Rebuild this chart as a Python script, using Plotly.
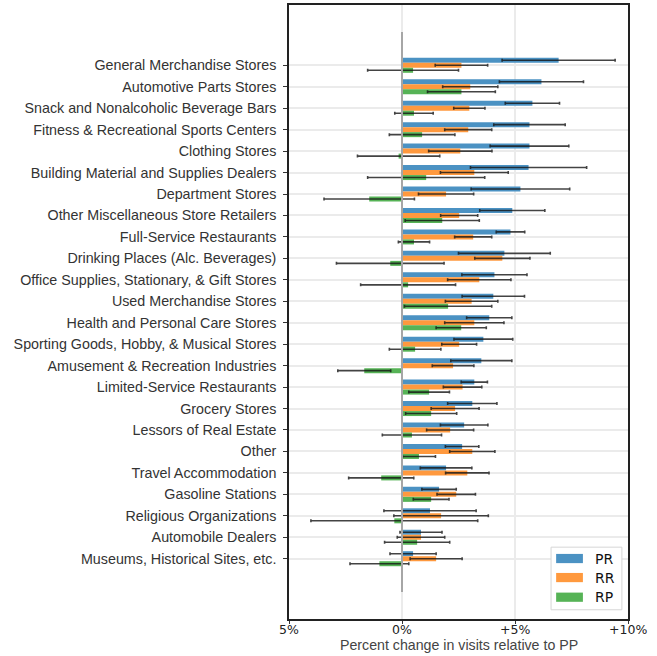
import plotly.graph_objects as go

categories = [
    "General Merchandise Stores", "Automotive Parts Stores",
    "Snack and Nonalcoholic Beverage Bars", "Fitness & Recreational Sports Centers",
    "Clothing Stores", "Building Material and Supplies Dealers", "Department Stores",
    "Other Miscellaneous Store Retailers", "Full-Service Restaurants",
    "Drinking Places (Alc. Beverages)", "Office Supplies, Stationary, & Gift Stores",
    "Used Merchandise Stores", "Health and Personal Care Stores",
    "Sporting Goods, Hobby, & Musical Stores", "Amusement & Recreation Industries",
    "Limited-Service Restaurants", "Grocery Stores", "Lessors of Real Estate", "Other",
    "Travel Accommodation", "Gasoline Stations", "Religious Organizations",
    "Automobile Dealers", "Museums, Historical Sites, etc.",
]

pr_values = [6.93, 6.17, 5.77, 5.64, 5.64, 5.60, 5.24, 4.88, 4.80, 4.53, 4.09, 4.04,
             3.86, 3.60, 3.51, 3.20, 3.11, 2.75, 2.66, 1.95, 1.64, 1.24, 0.84, 0.49]
pr_errors = [2.50, 1.86, 1.20, 1.58, 1.74, 2.57, 2.18, 1.44, 0.63, 2.03, 1.44, 1.38,
             1.00, 1.30, 1.35, 0.58, 1.09, 1.05, 0.74, 1.14, 0.76, 2.04, 0.93, 1.02]

rr_values = [2.63, 3.02, 2.98, 2.93, 2.58, 3.20, 1.95, 2.53, 3.15, 4.44, 3.42, 3.08,
             3.20, 2.53, 2.26, 2.68, 2.35, 2.13, 3.11, 2.89, 2.40, 1.73, 0.84, 1.51]
rr_errors = [1.16, 1.22, 0.69, 1.04, 1.40, 1.50, 1.22, 0.82, 0.82, 1.22, 1.40, 1.16,
             1.31, 0.77, 0.92, 0.85, 1.06, 1.04, 1.00, 0.96, 0.85, 2.09, 1.05, 1.15]

rp_values = [0.49, 2.63, 0.53, 0.89, -0.15, 1.07, -1.45, 1.78, 0.53, -0.52, 0.27, 2.04,
             2.62, 0.58, -1.67, 1.20, 1.29, 0.44, 0.75, -0.92, 1.29, -0.34, 0.67, -1.00]
rp_errors = [2.01, 1.50, 0.85, 1.45, 1.82, 2.59, 2.00, 1.64, 0.69, 2.38, 2.10, 1.93,
             1.11, 1.14, 1.17, 0.90, 1.13, 1.31, 0.73, 1.44, 0.79, 3.69, 1.44, 1.30]

series_names = ["PR", "RR", "RP"]
series_colors = ["#4b92c3", "#ff993e", "#56b356"]

x_tickvals = [-5, 0, 5, 10]
x_ticktext = ["5%", "0%", "+5%", "+10%"]

FONT = "Liberation Sans, Arial, sans-serif"
positions = list(range(len(categories)))

fig = go.Figure()
for name, vals, errs, color in zip(series_names,
                                   [pr_values, rr_values, rp_values],
                                   [pr_errors, rr_errors, rp_errors],
                                   series_colors):
    fig.add_trace(go.Bar(
        x=vals, y=positions, orientation="h", name=name,
        marker=dict(color=color, line=dict(width=0)),
        error_x=dict(type="data", array=errs, symmetric=True,
                     color="rgba(20,20,20,0.8)", thickness=1.6, width=1.5),
        showlegend=False,
    ))

n = len(categories)
fig.update_layout(
    width=657, height=656,
    margin=dict(l=289, r=29, t=5, b=37),
    paper_bgcolor="white", plot_bgcolor="white",
    barmode="group", bargap=0.3, bargroupgap=0,
    font=dict(family=FONT, color="#333333", size=13),
)
fig.update_yaxes(
    tickmode="array", tickvals=positions, ticktext=categories,
    range=[n - 1 + 2.81, -2.81], automargin=False,
    showgrid=True, gridcolor="#ebebeb", gridwidth=1.5,
    showline=True, linecolor="#222222", linewidth=1.5, mirror=True,
    ticks="outside", ticklen=4, tickcolor="#333333", tickwidth=1,
    ticklabelstandoff=4,
    tickfont=dict(size=14.3, family=FONT, color="#333333"),
    zeroline=False,
)
fig.update_xaxes(
    tickmode="array", tickvals=x_tickvals, ticktext=x_ticktext,
    range=[-5, 10], automargin=False,
    showgrid=True, gridcolor="#ebebeb", gridwidth=1.5,
    showline=True, linecolor="#222222", linewidth=1.5, mirror=True,
    ticks="outside", ticklen=3, tickcolor="#333333", tickwidth=1,
    zeroline=False,
    showticklabels=False,
)

# x tick labels and axis title as paper-anchored text
for tv, tt in zip(x_tickvals, x_ticktext):
    fig.add_annotation(xref="x", yref="paper", x=tv, y=-0.002, text=tt, showarrow=False,
                       xanchor="center", yanchor="top",
                       font=dict(size=12.5, family="DejaVu Sans, sans-serif", color="#222222"))
fig.add_annotation(xref="paper", yref="paper", x=0.5, y=-0.026,
                   text="Percent change in visits relative to PP", showarrow=False,
                   xanchor="center", yanchor="top",
                   font=dict(size=14.2, family=FONT, color="#444444"))

# zero reference line
fig.add_shape(type="line", xref="x", yref="y", x0=0, x1=0, y0=-1.55, y1=n - 1 + 1.55,
              line=dict(color="#a6a6a6", width=2))

# custom legend
fig.add_shape(type="rect", xref="paper", yref="paper", x0=0.773, x1=0.982, y0=0.015, y1=0.117,
              line=dict(color="#d6d6d6", width=1), fillcolor="white")
legend_rows_y = [0.0985, 0.0675, 0.0355]
for name, color, yc in zip(series_names, series_colors, legend_rows_y):
    fig.add_shape(type="rect", xref="paper", yref="paper", x0=0.788, x1=0.867,
                  y0=yc - 0.0075, y1=yc + 0.0075, line=dict(width=0), fillcolor=color)
    fig.add_annotation(xref="paper", yref="paper", x=0.898, y=yc, text=name, showarrow=False,
                       xanchor="left", yanchor="middle",
                       font=dict(size=14, family="DejaVu Sans, sans-serif", color="#111111"))

fig.write_html("out.html", config={"displayModeBar": False},
               post_script="document.body.style.margin='0';document.body.style.overflow='hidden';")
